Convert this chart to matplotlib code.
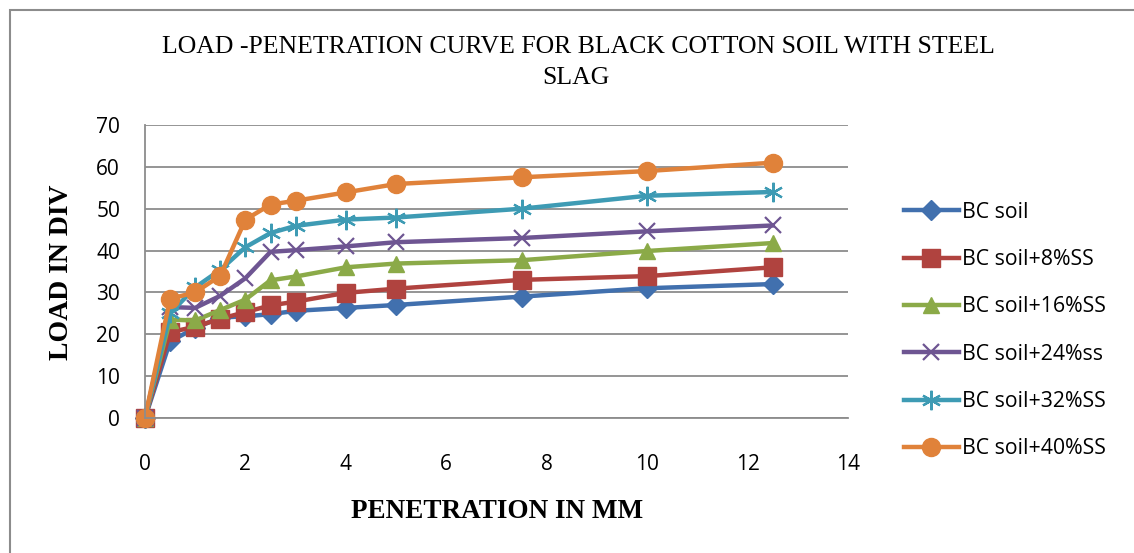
import matplotlib
matplotlib.use("Agg")
import matplotlib.pyplot as plt
from matplotlib.patches import Rectangle

penetration = [0, 0.5, 1, 1.5, 2, 2.5, 3, 4, 5, 7.5, 10, 12.5]
bc_soil = [0, 18.3, 21.5, 24, 24.3, 24.8, 25.6, 26.3, 27, 29, 31, 32]
bc_8 = [0, 20.5, 21.8, 23.7, 25.3, 26.9, 27.8, 29.9, 30.9, 33, 33.9, 36]
bc_16 = [0, 23.5, 23.3, 25.8, 28.3, 32.9, 33.8, 36, 36.9, 37.7, 39.9, 41.8]
bc_24 = [0, 26.5, 26.3, 29.2, 33.4, 39.7, 40.1, 41, 42, 43, 44.6, 46]
bc_32 = [0, 25, 31.2, 35.4, 40.8, 44.2, 45.9, 47.4, 47.9, 50, 53.1, 54]
bc_40 = [0, 28.5, 30, 34, 47.4, 51, 51.9, 53.9, 55.9, 57.5, 59, 61]

labels = ["BC soil", "BC soil+8%SS", "BC soil+16%SS", "BC soil+24%ss",
          "BC soil+32%SS", "BC soil+40%SS"]
x_ticks = [0, 2, 4, 6, 8, 10, 12, 14]
y_ticks = [0, 10, 20, 30, 40, 50, 60, 70]

series = [bc_soil, bc_8, bc_16, bc_24, bc_32, bc_40]
colors = ["#4170AE", "#B0433F", "#8BAA48", "#6E5592", "#3E9BB4", "#E0823A"]
markers = ["D", "s", "^", "x", (6, 2, 0), "o"]
msizes = [10, 13, 12, 12, 14, 13]

fig = plt.figure(figsize=(11.34, 5.53), dpi=100)
W, H = 1134, 553
fig.patches.append(Rectangle((10 / W, -0.1), 1.2, 1 - 10 / H + 0.1, transform=fig.transFigure,
                             fill=False, edgecolor="#8c8c8c", linewidth=1.5))

ax = fig.add_axes([145 / W, 1 - 418 / H, (848 - 145) / W, (418 - 125) / H])
for s, lab, c, m, ms in zip(series, labels, colors, markers, msizes):
    mk = dict(marker=m, markersize=ms, markerfacecolor=c, markeredgecolor=c)
    if m == "x" or isinstance(m, tuple):
        mk["markeredgewidth"] = 1.6
    ax.plot(penetration, s, color=c, linewidth=3.2, label=lab, clip_on=False, **mk)

ax.set_xlim(0, 14)
ax.set_ylim(0, 70)
ax.set_xticks(x_ticks)
ax.set_yticks(y_ticks)
ax.yaxis.grid(True, color="#8c8c8c", linewidth=1.3)
ax.set_axisbelow(True)
for sp in ["top", "right"]:
    ax.spines[sp].set_visible(False)
ax.spines["left"].set_color("#8c8c8c")
ax.spines["bottom"].set_color("#8c8c8c")
ax.spines["left"].set_linewidth(1.3)
ax.spines["bottom"].set_linewidth(1.3)
ax.tick_params(axis="both", length=0, labelsize=15)
ax.tick_params(axis="x", pad=26)
ax.tick_params(axis="y", pad=18)
for t in ax.get_xticklabels() + ax.get_yticklabels():
    t.set_fontfamily("Open Sans")

fig.text(578 / W, 1 - 47 / H, "LOAD -PENETRATION CURVE FOR BLACK COTTON SOIL WITH STEEL",
         ha="center", va="center", fontsize=18.5, family="Liberation Serif")
fig.text(576 / W, 1 - 78 / H, "SLAG", ha="center", va="center", fontsize=18.5,
         family="Liberation Serif")
fig.text(62 / W, 1 - 272 / H, "LOAD IN DIV", rotation=90, ha="center", va="center",
         fontsize=20, fontweight="bold", family="Liberation Serif")
fig.text(497 / W, 1 - 512 / H, "PENETRATION IN MM", ha="center", va="center",
         fontsize=19.5, fontweight="bold", family="Liberation Serif")

leg = fig.legend(loc="upper left", bbox_to_anchor=(893 / W, 1 - 191 / H), frameon=False,
                 prop={"family": "Open Sans", "size": 15.3}, handlelength=2.6,
                 handletextpad=0.15, labelspacing=1.24, borderpad=0)

fig.savefig("out.png", dpi=100)
